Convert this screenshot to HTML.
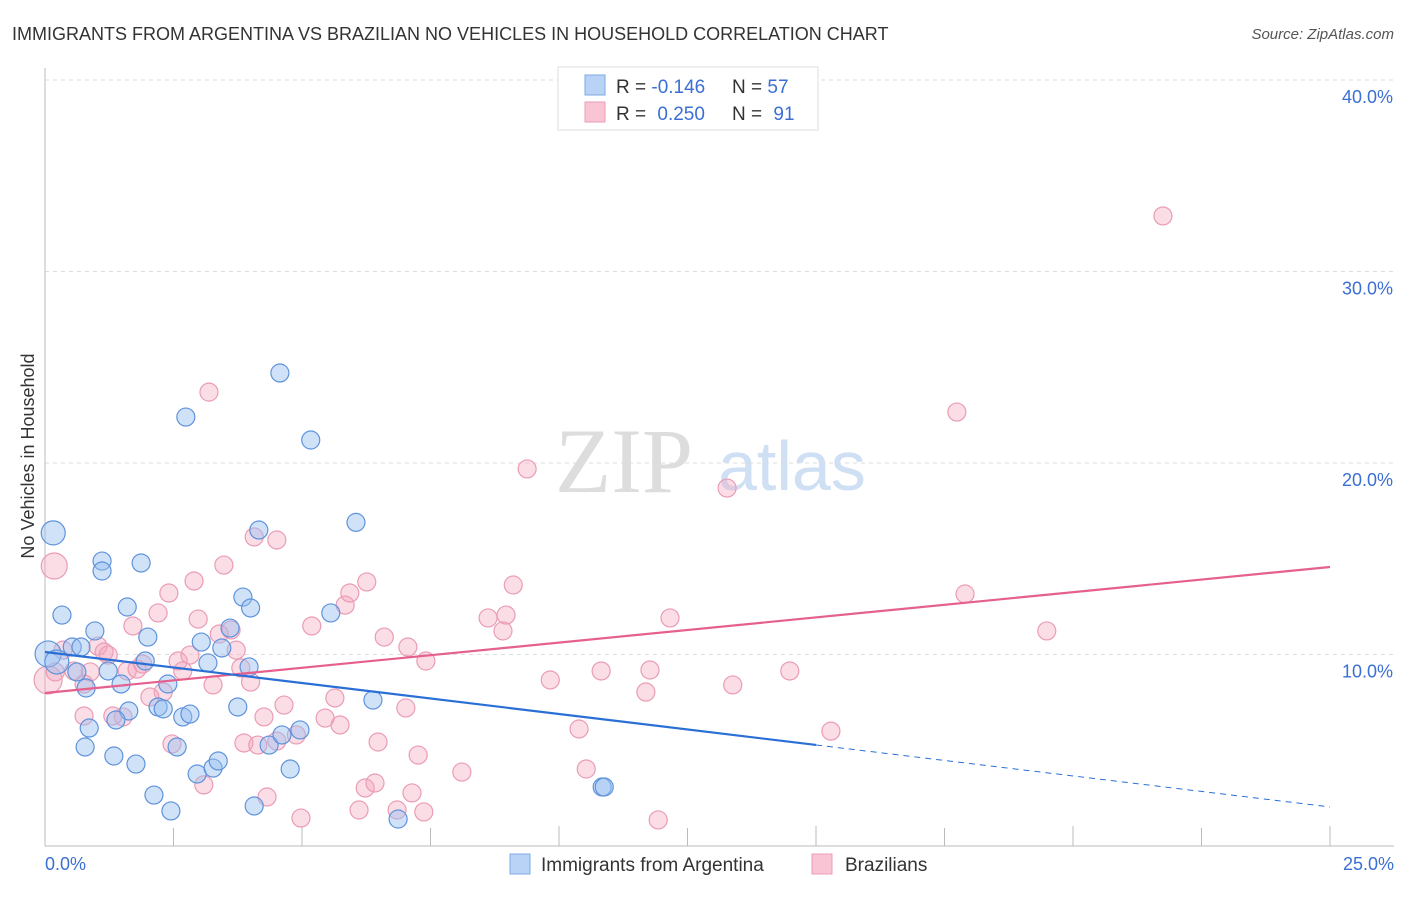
<!DOCTYPE html>
<html><head><meta charset="utf-8">
<style>
body{margin:0;background:#fff;width:1406px;height:892px;overflow:hidden;font-family:"Liberation Sans",sans-serif}
</style></head>
<body>
<svg id="chart" width="1406" height="892" xmlns="http://www.w3.org/2000/svg" font-family="Liberation Sans, sans-serif">
<text x="12" y="40" font-size="18" fill="#333">IMMIGRANTS FROM ARGENTINA VS BRAZILIAN NO VEHICLES IN HOUSEHOLD CORRELATION CHART</text>
<text x="1394" y="39" font-size="15" fill="#555" text-anchor="end" font-style="italic">Source: ZipAtlas.com</text>
<text transform="translate(34,456) rotate(-90)" font-size="18" fill="#333" text-anchor="middle">No Vehicles in Household</text>
<g>
<text x="555" y="492" font-size="92" fill="#ddd" font-family="Liberation Serif, serif">ZIP</text>
<text x="718" y="490" font-size="70" fill="#cfe0f5">atlas</text>
</g>
<g id="grid"></g>
<g id="axes"></g>
<g id="pts"></g>
<g id="trend"></g>
<g>
<rect x="558" y="67" width="260" height="63" fill="#fff" stroke="#ddd"/>
<rect x="585" y="75" width="20" height="20" fill="#b8d3f5" stroke="#7fa9e3"/>
<rect x="585" y="102" width="20" height="20" fill="#f9c5d5" stroke="#eb9cb5"/>
<text x="616" y="93" font-size="19" fill="#333">R = <tspan fill="#3b6fd4">-0.146</tspan></text>
<text x="732" y="93" font-size="19" fill="#333">N = <tspan fill="#3b6fd4">57</tspan></text>
<text x="616" y="120" font-size="19" fill="#333">R = <tspan fill="#3b6fd4" dx="6">0.250</tspan></text>
<text x="732" y="120" font-size="19" fill="#333">N = <tspan fill="#3b6fd4" dx="6">91</tspan></text>
</g>
<g>
<rect x="510" y="854" width="20" height="20" fill="#b8d3f5" stroke="#7fa9e3"/>
<text x="541" y="871" font-size="19" fill="#333">Immigrants from Argentina</text>
<rect x="812" y="854" width="20" height="20" fill="#f9c5d5" stroke="#eb9cb5"/>
<text x="845" y="871" font-size="19" fill="#333">Brazilians</text>
</g>
</svg>
<script>
const blueX=[0.16,1.11,1.11,1.87,0.33,1.6,0.97,2.0,3.6,0.06,0.53,0.7,0.23,1.95,0.62,1.23,0.8,1.48,2.2,2.3,3.04,3.17,3.44,3.85,4.0,1.63,1.38,0.86,0.78,1.34,1.77,2.68,2.82,2.57,2.96,3.27,3.37,2.12,2.45,3.75,3.97,4.16,4.57,2.74,5.17,6.05,5.56,4.36,4.61,4.96,4.77,4.07,6.38,6.87,10.84,10.88,2.39];
const blueY=[16.35,14.88,14.36,14.78,12.06,12.48,11.23,10.91,11.38,10.03,10.39,10.39,9.61,9.66,9.09,9.14,8.25,8.46,7.26,7.16,10.65,9.56,10.34,13.0,12.43,7.05,6.58,6.16,5.17,4.7,4.28,6.74,6.89,5.17,3.76,4.07,4.44,2.66,1.83,7.26,9.35,16.5,24.7,22.4,21.2,16.9,12.17,5.27,5.8,6.06,4.02,2.09,7.62,1.41,3.08,3.08,8.46];
const blueR=[12,9,9,9,9,9,9,9,9,13,9,9,12,9,9,9,9,9,9,9,9,9,9,9,9,9,9,9,9,9,9,9,9,9,9,9,9,9,9,9,9,9,9,9,9,9,9,9,9,9,9,9,9,9,9,9,9];
const pinkX=[0.18,0.06,0.2,0.35,1.03,1.15,1.23,0.56,0.88,0.76,1.6,1.71,1.79,1.9,2.2,2.41,2.9,2.98,3.48,3.19,4.07,4.51,2.59,2.68,2.82,3.39,3.62,3.72,3.81,4.0,3.27,2.3,2.04,1.52,0.76,1.32,2.47,3.09,3.87,4.14,4.51,4.32,4.26,4.65,4.89,4.98,5.19,5.84,5.93,6.26,5.64,5.45,5.74,6.48,6.11,6.23,6.42,6.85,7.14,7.37,6.6,7.06,7.41,7.02,7.26,8.11,9.11,8.62,8.97,8.91,9.38,9.83,10.39,10.53,10.82,11.77,11.69,11.93,12.16,13.27,13.38,14.49,15.29,17.74,17.9,19.49,21.75];
const pinkY=[14.62,8.67,9.09,10.23,10.44,10.13,9.97,9.14,9.09,8.46,9.14,11.49,9.24,9.5,12.17,13.21,13.84,11.85,14.67,23.7,16.14,15.98,9.66,9.14,9.97,11.07,11.28,10.23,9.3,8.56,8.41,8.04,7.78,6.74,6.79,6.79,5.33,3.19,5.38,5.27,5.48,2.56,6.74,7.36,5.8,1.46,11.49,12.58,13.21,13.79,7.73,6.68,6.32,5.43,1.88,3.03,3.29,1.88,2.77,1.78,10.91,10.39,9.66,7.21,4.75,3.86,13.63,11.91,12.06,11.23,19.69,8.67,6.11,4.02,9.14,9.19,8.04,1.36,11.91,18.69,8.41,9.14,6.0,22.66,13.16,11.23,32.9];
const pinkR=[13,14,9];
const yTicks=[10,20,30,40];
const yTickLabels=["10.0%","20.0%","30.0%","40.0%"];
const xTickVals=[0,2.5,5,7.5,10,12.5,15,17.5,20,22.5,25];
const blueTrend=[10.13,-0.3236];
const pinkTrend=[7.99,0.2632];
const blueSolidEnd=15;
const NS="http://www.w3.org/2000/svg";
const X0=45,X1=1330,Y0=846,PXY=19.15;
function sx(v){return X0+(X1-X0)*v/25;}
function sy(v){return Y0-v*PXY;}
function mk(tag,attrs,parent){const e=document.createElementNS(NS,tag);for(const k in attrs)e.setAttribute(k,attrs[k]);parent.appendChild(e);return e;}
const grid=document.getElementById('grid'),axes=document.getElementById('axes'),pts=document.getElementById('pts'),trend=document.getElementById('trend');
yTicks.forEach((t,i)=>{
 const l=mk('line',{x1:X0,x2:1394,y1:sy(t),y2:sy(t),stroke:'#ddd','stroke-dasharray':'4,4'},grid);
 
 
 const tx=mk('text',{x:1393,y:sy(t)+23,'font-size':18,fill:'#3b6fd4','text-anchor':'end'},grid);
 tx.textContent=yTickLabels[i];
 
 
});
const ax=mk('line',{x1:X0,x2:X0,y1:68,y2:Y0,stroke:'#bbb'},axes);


const bx=mk('line',{x1:X0,x2:1394,y1:Y0,y2:Y0,stroke:'#bbb'},axes);


xTickVals.forEach((t,i)=>{if(i==0)return;
 const tk=mk('line',{x1:sx(t),x2:sx(t),y1:(i%2==0?826:828),y2:Y0,stroke:'#bbb'},axes);
 
 
});
const xl0=mk('text',{x:45,y:870,'font-size':18,fill:'#3b6fd4'},axes);xl0.textContent='0.0%';


const xl1=mk('text',{x:1394,y:870,'font-size':18,fill:'#3b6fd4','text-anchor':'end'},axes);xl1.textContent='25.0%';


function drawPts(xs,ys,rs,fill,stroke,name){xs.forEach((x,i)=>{
 const c=mk('circle',{cx:sx(x),cy:sy(ys[i]),r:rs[i]||9,fill:fill,stroke:stroke,'stroke-width':1.2},pts);
 
 
});}
drawPts(pinkX,pinkY,pinkR,'rgba(245,165,190,0.38)','#eb9cb5','brazilians-point');
drawPts(blueX,blueY,blueR,'rgba(150,190,240,0.45)','#5f93dc','argentina-point');
function f(t,x){return t[0]+t[1]*x;}
const pl=mk('line',{x1:sx(0),y1:sy(f(pinkTrend,0)),x2:sx(25),y2:sy(f(pinkTrend,25)),stroke:'#e5608d','stroke-width':2.2},trend);


const bl=mk('line',{x1:sx(0),y1:sy(f(blueTrend,0)),x2:sx(blueSolidEnd),y2:sy(f(blueTrend,blueSolidEnd)),stroke:'#2a6fd6','stroke-width':2.2},trend);


const bd=mk('line',{x1:sx(blueSolidEnd),y1:sy(f(blueTrend,blueSolidEnd)),x2:sx(25),y2:sy(f(blueTrend,25)),stroke:'#2a6fd6','stroke-width':1,'stroke-dasharray':'6,5'},trend);


</script>
</body></html>
